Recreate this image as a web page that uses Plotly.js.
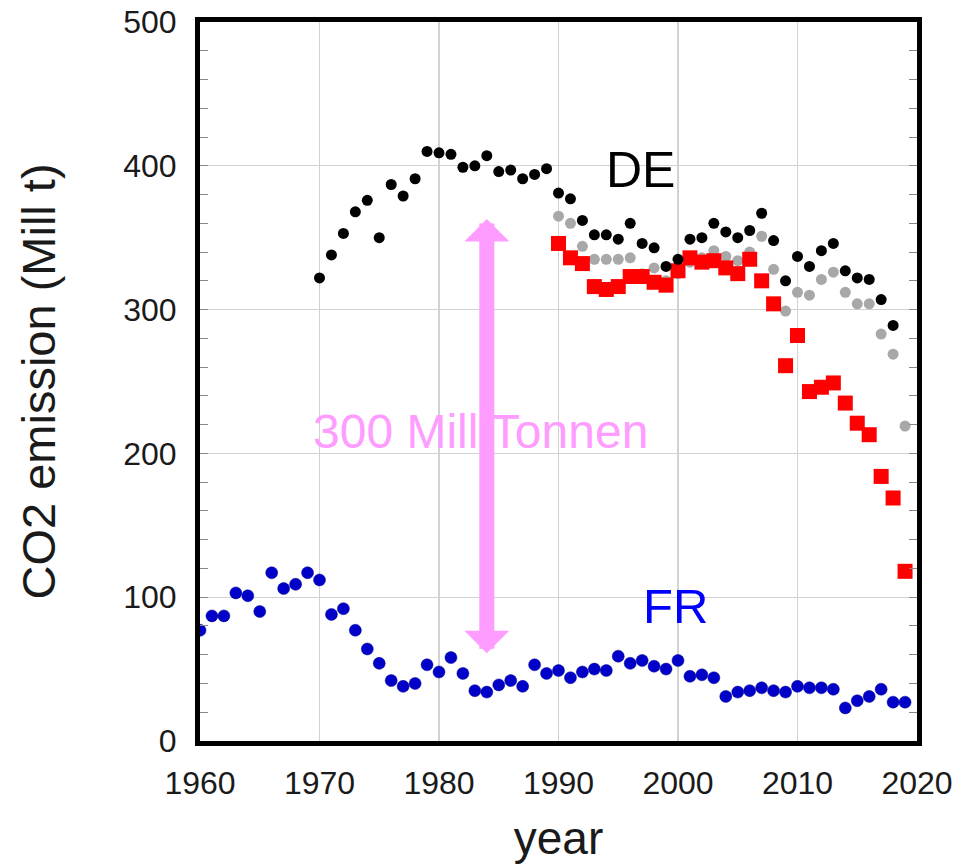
<!DOCTYPE html>
<html>
<head>
<meta charset="utf-8">
<script src="https://cdn.plot.ly/plotly-3.0.1.min.js"></script>
<style>html,body{margin:0;padding:0;background:#fff;}#chart{width:970px;height:864px;}</style>
</head>
<body>
<div id="chart"></div>
<script>
// DE total (black), 1970-2018
const deYears = [1970,1971,1972,1973,1974,1975,1976,1977,1978,1979,1980,1981,1982,1983,1984,1985,1986,1987,1988,1989,
  1990,1991,1992,1993,1994,1995,1996,1997,1998,1999,2000,2001,2002,2003,2004,2005,2006,2007,2008,2009,2010,2011,2012,2013,2014,2015,2016,2017,2018];
const deTotal = [322,338,353,368,376,350,387,379,391,410,409,408,399,400,407,396,397,391,394,398,
  381,377,362,352,352,349,360,346,343,330,335,349,350,360,354,350,355,367,348,320,337,330,341,346,327,322,321,307,289];

// DE gray series, 1990-2019
const grayYears = [1990,1991,1992,1993,1994,1995,1996,1997,1998,1999,2000,2001,2002,2003,2004,2005,2006,2007,2008,2009,2010,2011,2012,2013,2014,2015,2016,2017,2018,2019];
const grayVals = [365,360,344,335,335,335,336,325,329,320,325,333,336,341,337,334,340,351,328,299,312,310,321,326,312,304,304,283,269,219];

// DE red squares, 1990-2019
const redYears = grayYears;
const redVals = [346,336,332,316,314,316,323,323,319,317,327,336,333,334,329,325,335,320,304,261,282,243,246,249,235,221,213,184,169,118];

// FR (blue), 1960-2019
const frYears = [];
for (let y = 1960; y <= 2019; y++) frYears.push(y);
const frVals = [77,87,87,103,101,90,117,106,109,117,112,88,92,77,64,54,42,38,40,53,48,58,47,35,34,39,42,38,53,47,
  49,44,48,50,49,59,54,56,52,50,56,45,46,44,31,34,35,37,35,34,38,37,37,36,23,28,31,36,27,27];

const xTickVals = [1960,1970,1980,1990,2000,2010,2020];
const yTickVals = [0,100,200,300,400,500];

const font = 'Liberation Sans, Arial, sans-serif';
const traces = [
  {x: grayYears, y: grayVals, mode: 'markers', type: 'scatter', marker: {color: '#a8a8a8', size: 11}},
  {x: redYears, y: redVals, mode: 'markers', type: 'scatter', marker: {color: '#ff0000', size: 15, symbol: 'square'}},
  {x: deYears, y: deTotal, mode: 'markers', type: 'scatter', marker: {color: '#000000', size: 11}},
  {x: frYears, y: frVals, mode: 'markers', type: 'scatter', marker: {color: '#0000c8', size: 12, line: {color: '#000090', width: 0.5}}}
];

const layout = {
  width: 970, height: 864,
  margin: {l: 200, r: 53, t: 22, b: 123},
  paper_bgcolor: '#fff', plot_bgcolor: '#fff',
  showlegend: false,
  font: {family: font, color: '#1a1a1a'},
  xaxis: {
    range: [1960, 2020], tickvals: xTickVals, ticktext: xTickVals.map(String),
    showgrid: true, gridcolor: '#d2d2d2', gridwidth: 1.2, zeroline: false,
    showline: true, linecolor: '#000', linewidth: 5, mirror: true,
    ticks: '', tickfont: {size: 32, family: font, color: '#1a1a1a'}, ticklabelstandoff: 10,
    title: {text: 'year', font: {size: 46, family: font, color: '#1a1a1a'}, standoff: 27}
  },
  yaxis: {
    range: [0, 500], tickvals: yTickVals, ticktext: yTickVals.map(String),
    showgrid: true, gridcolor: '#d2d2d2', gridwidth: 1.2, zeroline: false,
    showline: true, linecolor: '#000', linewidth: 5, mirror: 'allticks',
    ticks: 'inside', ticklen: 8, tickcolor: '#888', tickwidth: 1,
    minor: {dtick: 20, ticks: 'inside', ticklen: 8, tickcolor: '#888', tickwidth: 1, showgrid: false},
    tickfont: {size: 32, family: font, color: '#1a1a1a'}, ticklabelstandoff: 12,
    title: {text: 'CO2 emission (Mill t)', font: {size: 47, family: font, color: '#1a1a1a'}, standoff: 54}
  },
  annotations: [
    {x: 1984, y: 61, ax: 1984, ay: 364, xref: 'x', yref: 'y', axref: 'x', ayref: 'y',
     text: '', showarrow: true, arrowside: 'end+start', arrowhead: 1, startarrowhead: 1,
     arrowsize: 0.5, startarrowsize: 0.5, arrowwidth: 15, arrowcolor: '#ff9cff'},
    {x: 1983.5, y: 215, xref: 'x', yref: 'y', text: '300 Mill Tonnen', showarrow: false,
     font: {size: 48, family: font, color: '#ff9cff'}},
    {x: 1996.9, y: 397, xref: 'x', yref: 'y', text: 'DE', showarrow: false,
     font: {size: 50, family: font, color: '#000'}},
    {x: 1999.8, y: 94, xref: 'x', yref: 'y', text: 'FR', showarrow: false,
     font: {size: 49, family: font, color: '#0000ff'}}
  ]
};

Plotly.newPlot('chart', traces, layout, {displayModeBar: false, staticPlot: true});
</script>
</body>
</html>
